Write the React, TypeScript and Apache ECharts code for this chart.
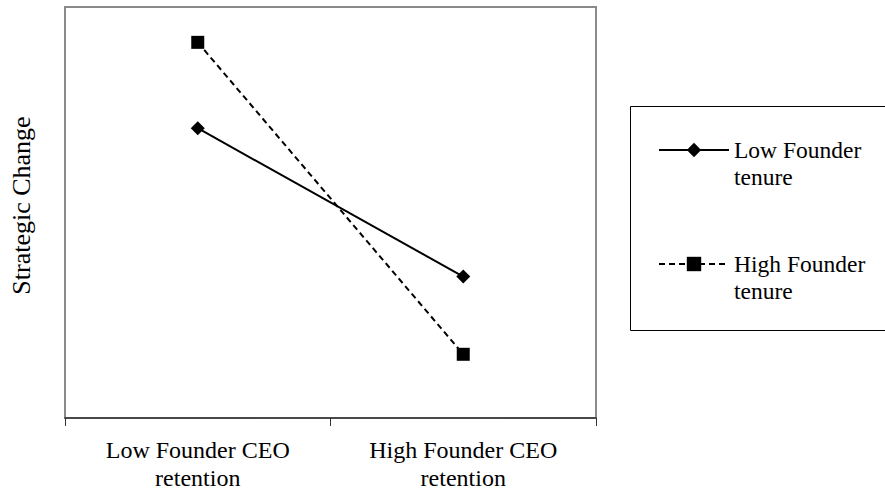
import React, { useEffect, useRef } from "react";
import * as echarts from "echarts";

const categories = ["Low Founder CEO\nretention", "High Founder CEO\nretention"];
const lowTenure = [70.5, 34.4];
const highTenure = [91.4, 15.5];
const seriesNames = ["Low Founder\ntenure", "High Founder\ntenure"];
const yAxisTitle = "Strategic Change";

const FONT = "'Liberation Serif', 'Times New Roman', serif";

export default function App() {
  const ref = useRef<HTMLDivElement>(null);
  useEffect(() => {
    if (!ref.current) return;
    const chart = echarts.init(ref.current, undefined, { renderer: "svg" });
    chart.setOption({
      animation: false,
      backgroundColor: "#ffffff",
      textStyle: { fontFamily: FONT },
      grid: {
        left: 64,
        top: 7,
        right: 289,
        bottom: 68,
        show: true,
        borderColor: "#8a8a8a",
        borderWidth: 2,
        backgroundColor: "transparent",
      },
      xAxis: {
        type: "category",
        data: categories,
        boundaryGap: true,
        axisLine: { show: true, lineStyle: { color: "#333333", width: 1.5 } },
        axisTick: { show: true, length: 8, interval: 0, lineStyle: { color: "#333333", width: 1 } },
        axisLabel: {
          interval: 0,
          margin: 18,
          color: "#000000",
          fontFamily: FONT,
          fontSize: 24,
          lineHeight: 28,
        },
        splitLine: { show: false },
      },
      yAxis: {
        type: "value",
        min: 0,
        max: 100,
        axisLine: { show: false },
        axisTick: { show: false },
        axisLabel: { show: false },
        splitLine: { show: false },
        name: yAxisTitle,
        nameLocation: "middle",
        nameGap: 31,
        nameTextStyle: {
          color: "#000000",
          fontFamily: FONT,
          fontSize: 26,
          padding: [0, 0, 0, 14],
        },
      },
      legend: {
        orient: "vertical",
        left: 658,
        top: 109.5,
        padding: 0,
        itemWidth: 70,
        itemHeight: 18,
        itemGap: 33,
        data: seriesNames,
        formatter: (name: string) => "\u00a0\n" + name,
        textStyle: {
          color: "#000000",
          fontFamily: FONT,
          fontSize: 23.5,
          lineHeight: 27,
        },
      },
      graphic: [
        {
          type: "rect",
          shape: { x: 630.5, y: 106.5, width: 270, height: 224 },
          style: { fill: "none", stroke: "#000000", lineWidth: 1 },
          silent: true,
          z: 0,
        },
      ],
      series: [
        {
          name: seriesNames[0],
          type: "line",
          data: lowTenure,
          symbol: "diamond",
          symbolSize: 14,
          showSymbol: true,
          lineStyle: { color: "#000000", width: 2, type: "solid" },
          itemStyle: { color: "#000000" },
          z: 3,
        },
        {
          name: seriesNames[1],
          type: "line",
          data: highTenure,
          symbol: "rect",
          symbolSize: 13,
          showSymbol: true,
          lineStyle: { color: "#000000", width: 2, type: [6, 4] },
          itemStyle: { color: "#000000" },
          z: 3,
        },
      ],
    });
    return () => chart.dispose();
  }, []);
  return (
    <div
      ref={ref}
      style={{ position: "fixed", left: 0, top: 0, width: 885, height: 492, background: "#fff" }}
    />
  );
}
